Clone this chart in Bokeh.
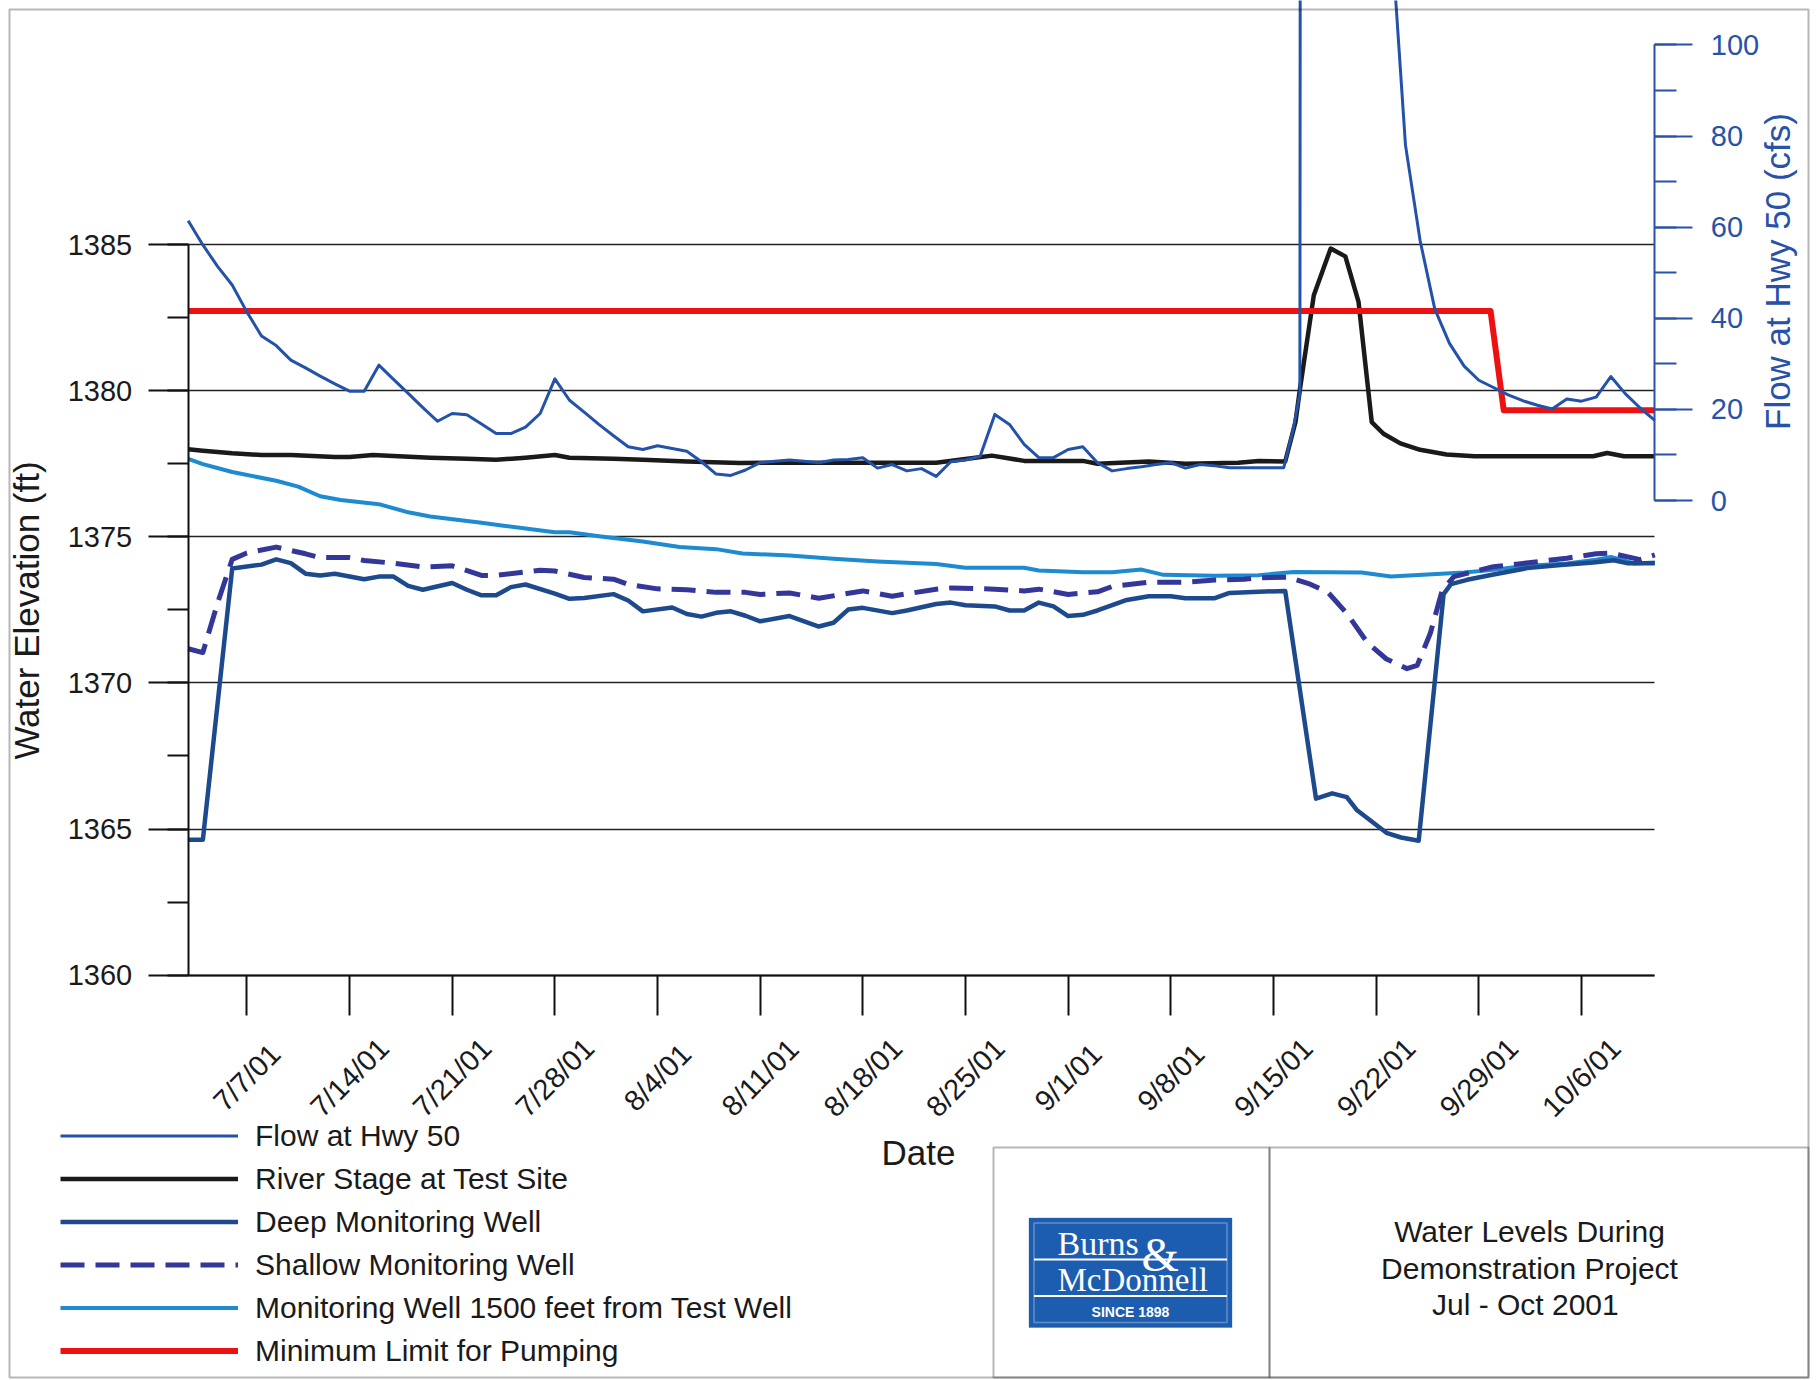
import math
from datetime import datetime

from bokeh.plotting import figure
from bokeh.models import (Range1d, LinearAxis, SingleIntervalTicker, FixedTicker,
                          Legend, LegendItem, Label, BoxAnnotation)
from bokeh.core.properties import value
from bokeh.embed import file_html
from bokeh.resources import INLINE

# ---------------------------------------------------------------- data
# x values are days after 1 July 2001
START = datetime(2001, 7, 1)

tick_labels = ["7/7/01", "7/14/01", "7/21/01", "7/28/01", "8/4/01", "8/11/01",
               "8/18/01", "8/25/01", "9/1/01", "9/8/01", "9/15/01", "9/22/01",
               "9/29/01", "10/6/01"]

flow_day = [2, 3, 4, 5, 6, 7, 8, 9, 10, 11, 12, 13, 14, 15, 16, 17, 18, 19, 20, 21,
            22, 23, 24, 25, 26, 27, 28, 29, 30, 31, 32, 33, 34, 35, 36, 37, 38, 39, 40, 41,
            42, 43, 44, 45, 46, 47, 48, 49, 50, 51, 52, 53, 54, 55, 56, 57, 58, 59, 60, 61,
            62, 63, 64, 65, 66, 67, 68, 69, 70, 71, 72, 73, 74, 75, 76,
            76.7, 77.35, 77.8, 78, 79.5, 81, 82.5, 83.5,
            84, 85, 86, 87, 88, 89, 90, 91, 92, 93, 94, 95, 96, 97, 98, 99, 100, 101, 102]
flow_cfs = [61.4, 56.1, 51.4, 47.3, 41.4, 36.1, 34.0, 30.8, 29.1, 27.3,
            25.6, 24.0, 24.0, 29.7, 26.6, 23.5, 20.4, 17.4, 19.1, 18.8,
            16.8, 14.7, 14.7, 16.1, 19.1, 26.7, 22.0, 19.4, 16.7, 14.2,
            11.8, 11.2, 12.0, 11.4, 10.8, 8.5, 5.8, 5.5, 6.7, 8.3,
            8.6, 8.9, 8.6, 8.3, 8.9, 9.0, 9.4, 7.1, 7.9, 6.5,
            7.0, 5.3, 8.5, 8.9, 9.7, 18.9, 16.7, 12.3, 9.4, 9.4,
            11.2, 11.8, 8.3, 6.5, 7.0, 7.4, 7.9, 8.3, 7.1, 7.9,
            7.6, 7.2, 7.2, 7.2, 7.2,
            7.2, 15.7, 23.5, 850, 1400, 1100, 500, 220,
            126, 78, 57, 42, 34.5, 29.5, 26.4, 24.8, 23.2, 21.9, 20.9, 20.1, 22.3, 21.8,
            22.7, 27.2, 23.4, 20.3, 17.6]

river_day = [2, 3, 5, 7, 9, 12, 13, 14.6, 16, 18.5, 21, 23, 25, 27, 28, 31, 33, 36, 39.6, 46,
             53, 55.4, 56.8, 59, 63, 64, 67.5, 70, 73.6, 75, 76.8, 77.5, 77.8, 78.75, 79.9,
             80.9, 81.8, 82.7, 83.5, 84.65, 86, 87.8, 89.7, 97.8, 98.75, 99.9, 102]
river_elev = [1378.0, 1377.95, 1377.86, 1377.8, 1377.8, 1377.73, 1377.73, 1377.8, 1377.77, 1377.71,
              1377.67, 1377.64, 1377.71, 1377.8, 1377.71, 1377.67, 1377.64, 1377.58, 1377.53, 1377.54,
              1377.54, 1377.69, 1377.78, 1377.6, 1377.6, 1377.5, 1377.58, 1377.5, 1377.54, 1377.6,
              1377.58, 1378.93, 1380.04, 1383.27, 1384.87, 1384.6, 1383.04, 1378.93, 1378.53, 1378.2,
              1377.98, 1377.82, 1377.76, 1377.76, 1377.87, 1377.76, 1377.76]

deep_day = [2, 3, 5, 7, 8, 9, 10, 11, 12, 14, 15, 16, 17, 18, 20, 21, 22, 23, 24, 25,
            27, 28, 29, 31, 32, 33, 35, 36, 37, 38, 39, 40, 41, 43, 45, 46, 47, 48, 50, 51,
            53, 54, 55, 57, 58, 59, 60, 61, 62, 63, 64, 65, 66, 67.5, 69, 70, 72, 73, 75, 76.8,
            78.9, 80, 81, 81.7, 83.7, 84.7, 85.9, 87.6, 88.1, 89.2, 91, 93.3, 95.6, 97.8, 99.2,
            100.1, 102]
deep_elev = [1364.63, 1364.63, 1373.92, 1374.05, 1374.23, 1374.1, 1373.74, 1373.68, 1373.74, 1373.55,
             1373.64, 1373.64, 1373.32, 1373.19, 1373.42, 1373.19, 1373.0, 1373.0, 1373.28, 1373.37,
             1373.06, 1372.88, 1372.91, 1373.04, 1372.82, 1372.45, 1372.58, 1372.36, 1372.27, 1372.4,
             1372.45, 1372.3, 1372.11, 1372.29, 1371.93, 1372.06, 1372.51, 1372.57, 1372.39, 1372.48,
             1372.7, 1372.75, 1372.66, 1372.62, 1372.48, 1372.48, 1372.75, 1372.62, 1372.29, 1372.33,
             1372.48, 1372.66, 1372.84, 1372.97, 1372.97, 1372.9, 1372.9, 1373.08, 1373.12, 1373.15,
             1366.04, 1366.22, 1366.09, 1365.64, 1364.87, 1364.71, 1364.6, 1373.04, 1373.38, 1373.53,
             1373.71, 1373.93, 1374.04, 1374.12, 1374.2, 1374.1, 1374.1]

shallow_day = [2, 3, 4, 5, 6, 8, 10, 11, 13, 14, 16, 18, 20, 22, 23, 26, 27, 29, 31, 32,
               34, 36, 38, 40, 41, 43, 45, 48, 50, 53, 54, 57, 59, 60, 62, 64, 65, 67.5, 70, 72,
               74, 75, 77, 78.5, 79.7, 81, 82.4, 83.7, 85.1, 85.8, 86.7, 87.5, 88.3, 91, 93,
               96, 98, 99, 101, 102]
shallow_elev = [1371.17, 1371.04, 1372.73, 1374.23, 1374.45, 1374.65, 1374.42, 1374.29, 1374.29, 1374.19,
                1374.1, 1373.97, 1374.01, 1373.68, 1373.68, 1373.86, 1373.83, 1373.61, 1373.55, 1373.37,
                1373.22, 1373.19, 1373.1, 1373.1, 1373.03, 1373.08, 1372.9, 1373.15, 1372.97, 1373.21,
                1373.25, 1373.21, 1373.15, 1373.21, 1373.03, 1373.12, 1373.3, 1373.45, 1373.45, 1373.52,
                1373.55, 1373.6, 1373.62, 1373.38, 1373.11, 1372.38, 1371.38, 1370.82, 1370.49, 1370.6,
                1371.71, 1373.16, 1373.64, 1373.98, 1374.09, 1374.27, 1374.42, 1374.44, 1374.22, 1374.38]

far_day = [2, 3, 5, 8, 9.5, 11, 12.4, 15, 17, 18.5, 22, 23.5, 27, 28, 30, 33, 35.5, 38, 39.8, 43,
           46, 49, 53, 55, 59, 60, 63, 65, 67, 68.5, 72, 75, 77.4, 82, 84, 86.5, 89, 91, 93, 96,
           98, 99, 100.6, 102]
far_elev = [1377.67, 1377.49, 1377.22, 1376.92, 1376.72, 1376.39, 1376.26, 1376.12, 1375.84, 1375.7,
            1375.48, 1375.38, 1375.16, 1375.16, 1375.02, 1374.84, 1374.65, 1374.58, 1374.43, 1374.36,
            1374.25, 1374.16, 1374.07, 1373.94, 1373.94, 1373.85, 1373.79, 1373.79, 1373.88, 1373.7,
            1373.67, 1373.69, 1373.8, 1373.78, 1373.64, 1373.71, 1373.78, 1373.87, 1374.0, 1374.09,
            1374.22, 1374.31, 1374.09, 1374.12]

limit_day = [2, 90.8, 91.7, 102]
limit_cfs = [41.6, 41.6, 19.8, 19.8]

# ---------------------------------------------------------------- layout
FONT = "Liberation Sans"
W, H = 1817, 1380          # canvas, placed at page (0, 0)
OX, OY = 0, 0
X_START, X_END = 2, 102    # axis span: 7/3/01 .. 10/11/01

PX_L, PX_R = 187.7, 1654.3        # page x of plot-area left/right
PY_1360, PY_1385 = 974.6, 244.2   # page y of elevation 1360 / 1385
PY_F0, PY_F100 = 500.0, 44.4      # page y of flow 0 / 100

kx = (PX_R - PX_L) / (X_END - X_START)
ke = (PY_1360 - PY_1385) / 25.0
kf = (PY_F0 - PY_F100) / 100.0
x_lo = X_START - (PX_L - OX) / kx
x_hi = X_END + (OX + W - PX_R) / kx
e_lo = 1360 - (OY + H - PY_1360) / ke
e_hi = 1360 + (PY_1360 - OY) / ke
f_lo = -(OY + H - PY_F0) / kf
f_hi = (PY_F0 - OY) / kf


def sx(px):
    return px - OX


def sy(py):
    return OY + H - py


def day_of(s):
    return (datetime.strptime(s, "%m/%d/%y") - START).days


tick_days = [day_of(s) for s in tick_labels]

p = figure(width=W, height=H, x_range=Range1d(x_lo, x_hi), y_range=Range1d(e_lo, e_hi),
           output_backend="svg", toolbar_location=None, title=None, min_border=0,
           background_fill_color="white", border_fill_color="white")
p.outline_line_color = None
p.extra_y_ranges = {"flow": Range1d(f_lo, f_hi)}

# x axis
xa = p.xaxis[0]
xa.fixed_location = 1360
xa.bounds = (X_START, X_END)
xa.ticker = FixedTicker(ticks=tick_days, minor_ticks=[])
xa.axis_line_width = 2
xa.axis_line_color = "#111111"
xa.major_tick_out = 40
xa.major_tick_in = 0
xa.major_tick_line_width = 2
xa.major_tick_line_color = "#111111"
xa.minor_tick_line_color = None
xa.major_label_overrides = {d: "" for d in tick_days}
xa.major_label_text_font_size = "0px"

# left axis
ya = p.yaxis[0]
ya.fixed_location = X_START
ya.bounds = (1360, 1385)
ya.ticker = SingleIntervalTicker(interval=5, num_minor_ticks=2)
ya.axis_line_width = 2
ya.axis_line_color = "#111111"
ya.major_tick_out = 40
ya.major_tick_in = 0
ya.minor_tick_out = 21
ya.minor_tick_in = 0
ya.major_tick_line_width = 2
ya.minor_tick_line_width = 2
ya.major_tick_line_color = "#111111"
ya.minor_tick_line_color = "#111111"
ya.major_label_standoff = 16
ya.major_label_text_font = FONT
ya.major_label_text_font_size = "29px"
ya.major_label_text_color = "#1a1a1a"

# right axis (flow)
BLUE_AX = "#2852a8"
ra = LinearAxis(y_range_name="flow")
ra.fixed_location = X_END
ra.bounds = (0, 100)
ra.ticker = SingleIntervalTicker(interval=20, num_minor_ticks=2)
ra.axis_line_width = 2
ra.axis_line_color = BLUE_AX
ra.major_tick_out = 38
ra.major_tick_in = 0
ra.minor_tick_out = 22
ra.minor_tick_in = 0
ra.major_tick_line_width = 2
ra.minor_tick_line_width = 2
ra.major_tick_line_color = BLUE_AX
ra.minor_tick_line_color = BLUE_AX
ra.major_label_standoff = 18
ra.major_label_text_font = FONT
ra.major_label_text_font_size = "29px"
ra.major_label_text_color = BLUE_AX
p.add_layout(ra, "right")

# grid
p.xgrid.visible = False
yg = p.ygrid[0]
yg.ticker = SingleIntervalTicker(interval=5)
yg.bounds = (1360, 1385)
yg.grid_line_color = "#222222"
yg.grid_line_width = 1.6
try:
    yg.cross_bounds = (X_START, X_END)
except Exception:
    yg.visible = False
    gl = [1365, 1370, 1375, 1380, 1385]
    p.segment(x0=[X_START] * len(gl), x1=[X_END] * len(gl), y0=gl, y1=gl,
              line_color="#222222", line_width=1.6)

# series
r_far = p.line(far_day, far_elev, line_color="#1e8ad0", line_width=4, line_join="round")
r_shallow = p.line(shallow_day, shallow_elev, line_color="#33379a", line_width=5,
                   line_dash="24 11", line_join="round")
r_deep = p.line(deep_day, deep_elev, line_color="#1d4a8c", line_width=4.5, line_join="round")
r_river = p.line(river_day, river_elev, line_color="#1a1a1a", line_width=4.5, line_join="round")
r_limit = p.line(limit_day, limit_cfs, y_range_name="flow", line_color="#ee1111", line_width=6,
                 line_join="round")
r_flow = p.line(flow_day, flow_cfs, y_range_name="flow", line_color="#2352a8", line_width=3,
                line_join="round")

# rotated date tick labels, centred under each tick
lab_e = 1360 - (1077 - PY_1360) / ke
p.text(x=tick_days, y=[lab_e] * len(tick_days), text=tick_labels, angle=math.pi / 4,
       text_align="center", text_baseline="middle", text_font=value(FONT),
       text_font_size="29px", text_color="#1a1a1a")

# axis titles
p.add_layout(Label(x=sx(26), y=sy(610), x_units="screen", y_units="screen",
                   text="Water Elevation (ft)", angle=math.pi / 2, text_align="center",
                   text_baseline="alphabetic", text_font=FONT, text_font_size="35px",
                   text_color="#1a1a1a"))
p.add_layout(Label(x=sx(1777), y=sy(271), x_units="screen", y_units="screen",
                   text="Flow at Hwy 50 (cfs)", angle=math.pi / 2, text_align="center",
                   text_baseline="alphabetic", text_font=FONT, text_font_size="35px",
                   text_color=BLUE_AX))
p.add_layout(Label(x=sx(918), y=sy(1152), x_units="screen", y_units="screen",
                   text="Date", text_align="center", text_baseline="alphabetic",
                   text_font=FONT, text_font_size="35px", text_color="#1a1a1a"))

# legend
legend = Legend(items=[
    LegendItem(label="Flow at Hwy 50", renderers=[r_flow]),
    LegendItem(label="River Stage at Test Site", renderers=[r_river]),
    LegendItem(label="Deep Monitoring Well", renderers=[r_deep]),
    LegendItem(label="Shallow Monitoring Well", renderers=[r_shallow]),
    LegendItem(label="Monitoring Well 1500 feet from Test Well", renderers=[r_far]),
    LegendItem(label="Minimum Limit for Pumping", renderers=[r_limit]),
], location=(sx(60), sy(1372)), glyph_width=178, glyph_height=43, label_height=43,
    label_standoff=17, spacing=0, padding=0, margin=0,
    label_text_font=FONT, label_text_font_size="30px", label_text_color="#1a1a1a",
    border_line_color=None, background_fill_alpha=0)
p.add_layout(legend)


def box(l, r, t, b, **kw):
    opts = dict(left=sx(l), right=sx(r), top=sy(t), bottom=sy(b),
                left_units="screen", right_units="screen", top_units="screen",
                bottom_units="screen", fill_alpha=0, line_color="#111111", line_width=2)
    opts.update(kw)
    p.add_layout(BoxAnnotation(**opts))


# outer frame and title block
box(9, 1808, 9, 1377)
box(993, 1269, 1147, 1377)
box(1269, 1808, 1147, 1377)

# logo
LOGO = "#1d5daf"
box(1028.5, 1231.5, 1217.5, 1327, fill_color=LOGO, fill_alpha=1, line_color=LOGO, line_width=1)
box(1033.5, 1226.5, 1222.5, 1322, line_color="white", line_width=1.5)
box(1033.5, 1226.5, 1258, 1260, fill_color="white", fill_alpha=1, line_color=None)
box(1033.5, 1226.5, 1294.5, 1296.5, fill_color="white", fill_alpha=1, line_color=None)
p.add_layout(Label(x=sx(1057), y=sy(1243), x_units="screen", y_units="screen", text="Burns",
                   text_font="Liberation Serif", text_font_size="34px", text_color="white",
                   text_baseline="alphabetic"))
p.add_layout(Label(x=sx(1141), y=sy(1254), x_units="screen", y_units="screen", text="&",
                   text_font="Liberation Serif", text_font_size="48px", text_color="white",
                   text_baseline="alphabetic"))
p.add_layout(Label(x=sx(1057), y=sy(1279), x_units="screen", y_units="screen", text="McDonnell",
                   text_font="Liberation Serif", text_font_size="33px", text_color="white",
                   text_baseline="alphabetic"))
p.add_layout(Label(x=sx(1130), y=sy(1311), x_units="screen", y_units="screen", text="SINCE 1898",
                   text_font=FONT, text_font_size="14px", text_font_style="bold",
                   text_color="white", text_align="center", text_baseline="alphabetic"))

# title text
for txt, base in [("Water Levels During", 1231), ("Demonstration Project", 1267.5),
                  ("Jul - Oct  2001", 1304)]:
    p.add_layout(Label(x=sx(1529), y=sy(base), x_units="screen", y_units="screen", text=txt,
                       text_font=FONT, text_font_size="30px", text_color="#1a1a1a",
                       text_align="center", text_baseline="alphabetic"))

open("out.html", "w").write(file_html(p, INLINE))
